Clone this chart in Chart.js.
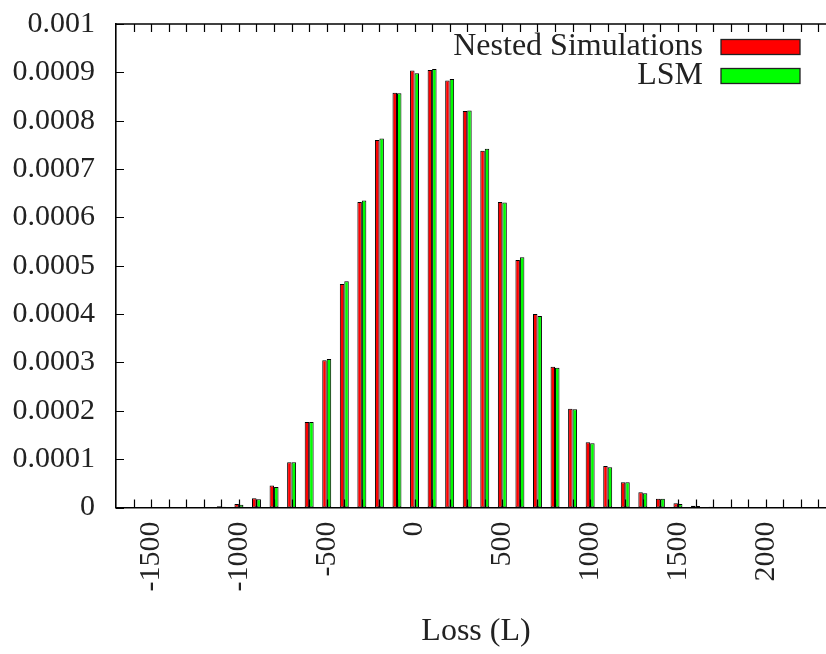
<!DOCTYPE html>
<html><head><meta charset="utf-8">
<script src="https://cdn.jsdelivr.net/npm/chart.js@4/dist/chart.umd.min.js"></script>
<style>
html,body{margin:0;padding:0;overflow:hidden;background:#fff;width:826px;height:654px}
#wrap{position:absolute;left:0;top:0;width:836px;height:654px}
</style></head>
<body><div id="wrap"><canvas id="c" width="836" height="654"></canvas></div>
<script>
// Loss bins (bar centres), step 100
const lossBins = [-1600,-1500,-1400,-1300,-1200,-1100,-1000,-900,-800,-700,-600,-500,-400,-300,-200,-100,
  0,100,200,300,400,500,600,700,800,900,1000,1100,1200,1300,1400,1500,1600,1700,1800,1900,2000,2100,2200,2300];
const nestedSimulations = [0,0,0,0,0.0000005,0.0000025,0.000007,0.000019,0.0000455,0.0000935,0.0001768,0.0003044,0.000462,0.000632,0.00076,0.000858,
  0.000904,0.000905,0.000883,0.00082,0.000738,0.000632,0.000512,0.0004,0.000291,0.000204,0.000135,0.0000858,0.0000521,0.0000314,0.0000182,0.0000087,0.0000037,0.0000017,0.0000005,0.0000002,0,0,0,0];
const lsm = [0,0,0,0,0.0000003,0.0000015,0.0000055,0.000017,0.0000425,0.0000935,0.0001768,0.0003071,0.000468,0.000635,0.000763,0.000857,
  0.000898,0.000907,0.000886,0.000821,0.000742,0.000631,0.0005175,0.000396,0.000289,0.000203,0.000133,0.0000831,0.0000521,0.0000294,0.0000182,0.0000072,0.0000031,0.0000012,0.0000003,0.0000001,0,0,0,0];
const xTickLabels = ['-1500','-1000','-500','0','500','1000','1500','2000'];
const yTickLabels = ['0','0.0001','0.0002','0.0003','0.0004','0.0005','0.0006','0.0007','0.0008','0.0009','0.001'];
const seriesNames = ['Nested Simulations','LSM'];

const FONT = 'Liberation Serif';
const TEXT = '#222';

const frame = {
  id: 'frame',
  afterDatasetsDraw(chart) {
    const {ctx, chartArea: a, scales: {x, y}} = chart;
    ctx.save();
    ctx.strokeStyle = '#000';
    ctx.lineWidth = 1.2;
    ctx.beginPath();
    lossBins.forEach(v => {
      const px = Math.round(x.getPixelForValue(v)) + 0.5;
      ctx.moveTo(px, a.bottom); ctx.lineTo(px, a.bottom - 8);
      ctx.moveTo(px, a.top); ctx.lineTo(px, a.top + 8);
    });
    yTickLabels.forEach(l => {
      const py = Math.round(y.getPixelForValue(parseFloat(l))) + 0.5;
      ctx.moveTo(a.left, py); ctx.lineTo(a.left + 8, py);
    });
    ctx.stroke();
    ctx.lineWidth = 1.6;
    ctx.beginPath();
    ctx.moveTo(a.left, a.top); ctx.lineTo(a.right, a.top);
    ctx.stroke();
    // legend
    ctx.font = '32px "' + FONT + '"';
    ctx.textAlign = 'right';
    ctx.textBaseline = 'middle';
    chart.data.datasets.forEach((ds, i) => {
      const cy = a.top + 23 + i * 29;
      ctx.fillStyle = TEXT;
      ctx.fillText(ds.label, a.right - 133, cy);
      ctx.fillStyle = ds.backgroundColor;
      ctx.fillRect(a.right - 115, cy - 7.5, 79, 15);
      ctx.strokeStyle = '#222';
      ctx.lineWidth = 1.3;
      ctx.strokeRect(a.right - 115, cy - 7.5, 79, 15);
    });
    ctx.restore();
  }
};

new Chart(document.getElementById('c'), {
  type: 'bar',
  data: {
    datasets: [
      {label: seriesNames[0], data: lossBins.map((b, i) => ({x: b, y: nestedSimulations[i]})),
       backgroundColor: '#ff0000', borderColor: '#000', borderWidth: 1, borderSkipped: false},
      {label: seriesNames[1], data: lossBins.map((b, i) => ({x: b, y: lsm[i]})),
       backgroundColor: '#00ff00', borderColor: '#000', borderWidth: 1, borderSkipped: false}
    ]
  },
  options: {
    responsive: false,
    animation: false,
    devicePixelRatio: 1,
    layout: {padding: {top: 24, left: 0, right: 0, bottom: 0}},
    datasets: {bar: {categoryPercentage: 0.51, barPercentage: 1.0}},
    plugins: {legend: {display: false}, tooltip: {enabled: false}},
    scales: {
      x: {
        type: 'linear', min: -1700, max: 2400, offset: false,
        grid: {display: false, drawTicks: false},
        border: {display: true, color: '#000', width: 1.6},
        ticks: {
          stepSize: 100, autoSkip: false, maxRotation: 90, minRotation: 90, padding: 14,
          color: TEXT, font: {family: FONT, size: 30},
          callback: v => { const s = String(v); return xTickLabels.includes(s) ? s : ''; }
        },
        title: {display: true, text: 'Loss (L)', color: TEXT, font: {family: FONT, size: 32}, padding: {top: 0, bottom: 3}},
        afterFit: s => { s.height = 146.5; s.paddingLeft = 0; s.paddingRight = 0; }
      },
      y: {
        min: 0, max: 0.001,
        grid: {display: false, drawTicks: false},
        border: {display: true, color: '#000', width: 1.6},
        ticks: {
          stepSize: 0.0001, padding: 21, color: TEXT, font: {family: FONT, size: 30},
          callback: v => { const l = yTickLabels.find(t => Math.abs(parseFloat(t) - v) < 1e-9); return l === undefined ? '' : l; }
        },
        afterFit: s => { s.width = 116; s.paddingTop = 0; s.paddingBottom = 0; }
      }
    }
  },
  plugins: [frame]
});
</script>
</body></html>
